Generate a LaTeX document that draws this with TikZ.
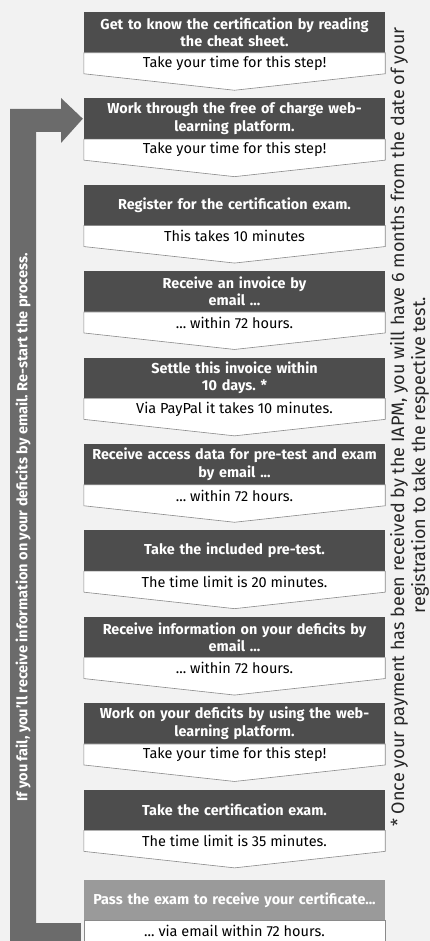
\documentclass[tikz,border=0pt]{standalone}
\usepackage{fontspec}
\setmainfont{Fira Sans}
\usepackage{xcolor}
\usepackage{tikz}
\usetikzlibrary{positioning,calc}
\frenchspacing

\definecolor{pagebg}{HTML}{F2F2F2}
\definecolor{headdark}{HTML}{4D4D4D}
\definecolor{headlight}{HTML}{9A9A9A}
\definecolor{loopgray}{HTML}{6B6B6B}
\definecolor{notetext}{HTML}{262626}
\definecolor{edgegray}{HTML}{8A8A8A}

\begin{document}
\begin{tikzpicture}[x=1pt, y=-1pt,
  headbox/.style={fill=headdark, minimum width=301pt, minimum height=40.5pt, text width=296pt, inner sep=0pt, align=center, text=white, font=\fontsize{14.4}{17.5}\selectfont\bfseries},
  subbox/.style={minimum width=301pt, minimum height=21pt, inner sep=0pt, align=center, font=\fontsize{14.5}{16}\selectfont},
  tipshape/.style={fill=white, draw=edgegray, line width=0.6pt, line join=miter},
  loopbar/.style={fill=loopgray},
  notebox/.style={rotate=90, inner sep=0pt, text=notetext, font=\fontsize{18}{21}\selectfont},
]
\useasboundingbox (0,0) rectangle (430,941);
\fill[pagebg] (0,0) rectangle (430,941);

% steps
\node[headbox] (h1) at (234.5,32.3) {Get to know the certification by reading\\the cheat sheet.};
\filldraw[tipshape] (h1.south west) -- (h1.south east) -- ++(0,21) -- ($(h1.south)+(0,37.5)$) -- ($(h1.south west)+(0,21)$) -- cycle;
\node[subbox, below=0pt of h1] (s1) {Take your time for this step!};

\node[headbox] (h2) at (234.5,118.7) {Work through the free of charge web-\\learning platform.};
\filldraw[tipshape] (h2.south west) -- (h2.south east) -- ++(0,21) -- ($(h2.south)+(0,37.5)$) -- ($(h2.south west)+(0,21)$) -- cycle;
\node[subbox, below=0pt of h2] (s2) {Take your time for this step!};

\node[headbox] (h3) at (234.5,205.1) {Register for the certification exam.};
\filldraw[tipshape] (h3.south west) -- (h3.south east) -- ++(0,21) -- ($(h3.south)+(0,37.5)$) -- ($(h3.south west)+(0,21)$) -- cycle;
\node[subbox, below=0pt of h3] (s3) {This takes 10 minutes};

\node[headbox] (h4) at (234.5,291.5) {Receive an invoice by\\email ...};
\filldraw[tipshape] (h4.south west) -- (h4.south east) -- ++(0,21) -- ($(h4.south)+(0,37.5)$) -- ($(h4.south west)+(0,21)$) -- cycle;
\node[subbox, below=0pt of h4] (s4) {... within 72 hours.};

\node[headbox] (h5) at (234.5,377.9) {Settle this invoice within\\10 days. *};
\filldraw[tipshape] (h5.south west) -- (h5.south east) -- ++(0,21) -- ($(h5.south)+(0,37.5)$) -- ($(h5.south west)+(0,21)$) -- cycle;
\node[subbox, below=0pt of h5] (s5) {Via PayPal it takes 10 minutes.};

\node[headbox] (h6) at (234.5,464.3) {Receive access data for pre-test and exam\\by email ...};
\filldraw[tipshape] (h6.south west) -- (h6.south east) -- ++(0,21) -- ($(h6.south)+(0,37.5)$) -- ($(h6.south west)+(0,21)$) -- cycle;
\node[subbox, below=0pt of h6] (s6) {... within 72 hours.};

\node[headbox] (h7) at (234.5,550.7) {Take the included pre-test.};
\filldraw[tipshape] (h7.south west) -- (h7.south east) -- ++(0,21) -- ($(h7.south)+(0,37.5)$) -- ($(h7.south west)+(0,21)$) -- cycle;
\node[subbox, below=0pt of h7] (s7) {The time limit is 20 minutes.};

\node[headbox] (h8) at (234.5,637.1) {Receive information on your deficits by\\email ...};
\filldraw[tipshape] (h8.south west) -- (h8.south east) -- ++(0,21) -- ($(h8.south)+(0,37.5)$) -- ($(h8.south west)+(0,21)$) -- cycle;
\node[subbox, below=0pt of h8] (s8) {... within 72 hours.};

\node[headbox] (h9) at (234.5,723.5) {Work on your deficits by using the web-\\learning platform.};
\filldraw[tipshape] (h9.south west) -- (h9.south east) -- ++(0,21) -- ($(h9.south)+(0,37.5)$) -- ($(h9.south west)+(0,21)$) -- cycle;
\node[subbox, below=0pt of h9] (s9) {Take your time for this step!};

\node[headbox] (h10) at (234.5,809.9) {Take the certification exam.};
\filldraw[tipshape] (h10.south west) -- (h10.south east) -- ++(0,21) -- ($(h10.south)+(0,37.5)$) -- ($(h10.south west)+(0,21)$) -- cycle;
\node[subbox, below=0pt of h10] (s10) {The time limit is 35 minutes.};

\node[headbox, fill=headlight] (h11) at (234.5,900) {Pass the exam to receive your certificate...};
\filldraw[tipshape] (h11.south west) -- (h11.south east) -- ++(0,26) -- ($(h11.south west)+(0,26)$) -- cycle;
\node[subbox, below=0pt of h11] (s11) {... via email within 72 hours.};

% restart loop
\fill[loopbar] (10,946) -- (10,109) -- (61,109) -- (61,98) -- ([xshift=-1pt]h2.west) -- (61,143) -- (61,132)
  -- (36,132) -- (36,923) -- ([xshift=-3pt]h11.west |- 0,923) -- ([xshift=-3pt]h11.west |- 0,946) -- cycle;
\node[rotate=90, text=white, font=\fontsize{14.5}{17}\selectfont\bfseries] (failnote) at (23,527.5)
  {If you fail, you'll receive information on your deficits by email. Re-start the process.};

% payment note
\node[notebox] (paynote) at (399,427) {* Once your payment has been received by the IAPM, you will have 6 months from the date of your};
\node[notebox] (paynote2) at (420,455) {registration to take the respective test.};
\end{tikzpicture}
\end{document}
